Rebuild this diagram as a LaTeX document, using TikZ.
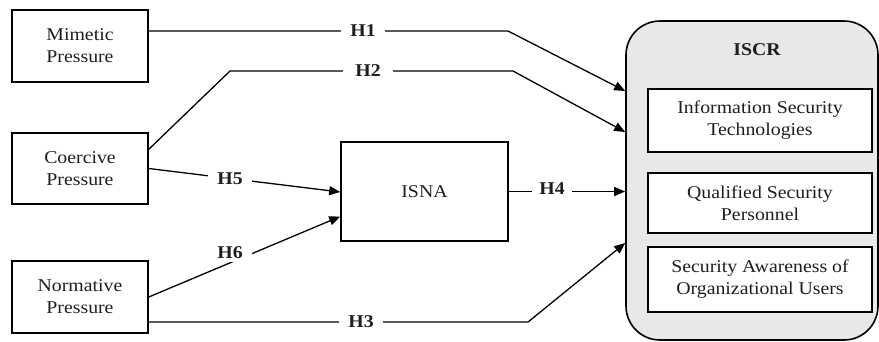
\documentclass[tikz,border=0pt]{standalone}
\usepackage{fontspec}
\setmainfont[FakeStretch=1.1]{Liberation Serif}
\usetikzlibrary{arrows.meta,calc}
\definecolor{panel}{RGB}{232,232,232}
\definecolor{ink}{RGB}{30,30,30}
\begin{document}
\begin{tikzpicture}[x=1pt,y=-1pt,
  box/.style={draw,line width=1.6pt,rectangle,inner sep=0pt,align=center,
    font=\fontsize{18}{22}\selectfont,text=ink},
  hyp/.style={fill=white,inner sep=0pt,minimum width=44pt,minimum height=18pt,
    font=\fontsize{18}{20}\selectfont\bfseries,text=ink},
  link/.style={line width=1.3pt},
  arr/.style={link,-{Triangle[length=11pt,width=9pt]}}]
\useasboundingbox (0,0) rectangle (879,341);

% group panel
\node[draw,line width=1.6pt,fill=panel,rounded corners=34pt,minimum width=252pt,
  minimum height=319pt,inner sep=0pt] (iscr) at (752,180.5) {};
\node[font=\fontsize{18}{20}\selectfont\bfseries,text=ink] (iscrt) at (757,50) {ISCR};

% construct boxes
\node[box,minimum width=136pt,minimum height=72pt] (mim) at (80,46) {Mimetic\\Pressure};
\node[box,minimum width=136pt,minimum height=71pt] (coe) at (80,168.5) {Coercive\\Pressure};
\node[box,minimum width=136pt,minimum height=72pt] (nor) at (80,297) {Normative\\Pressure};
\node[box,minimum width=167pt,minimum height=99pt] (isna) at (424.5,191.5) {ISNA};

\node[box,fill=white,minimum width=224pt,minimum height=63pt] (ist) at (760,120.5) {Information Security\\Technologies};
\node[box,fill=white,minimum width=224pt,minimum height=60pt] (qsp) at (760,203) {Qualified Security\\Personnel};
\node[box,fill=white,minimum width=224pt,minimum height=65pt] (sau) at (760,279.5) {Security Awareness of\\Organizational Users};

% bend points
\coordinate (b1) at (508,31);
\coordinate (t1) at (626,91);
\coordinate (c2) at (148,150);
\coordinate (a2) at (230,71);
\coordinate (b2) at (513,71);
\coordinate (t2) at (626,132);
\coordinate (b3) at (528,322);
\coordinate (t3) at (626,243);

% paths
\draw[arr] (mim.east |- b1) -- (b1) -- (iscr.west |- t1);
\node[hyp] (h1) at (363,31) {H1};
\draw[arr] (c2) -- (a2) -- (b2) -- (iscr.west |- t2);
\node[hyp,minimum width=50pt] (h2) at (368,71) {H2};
\draw[arr] (coe.east) -- ($(isna.west)+(0,0.5)$);
\node[hyp] (h5) at (230,179) {H5};
\draw[arr] (nor.east) -- ($(isna.west)+(0,25)$);
\node[hyp] (h6) at (230,253) {H6};
\draw[arr] ($(nor.east)+(0,25)$) -- (b3) -- (iscr.west |- t3);
\node[hyp] (h3) at (361,322) {H3};
\draw[arr] (isna.east) -- (isna.east -| iscr.west);
\node[hyp,minimum width=40pt] (h4) at (552,189) {H4};
\end{tikzpicture}
\end{document}
